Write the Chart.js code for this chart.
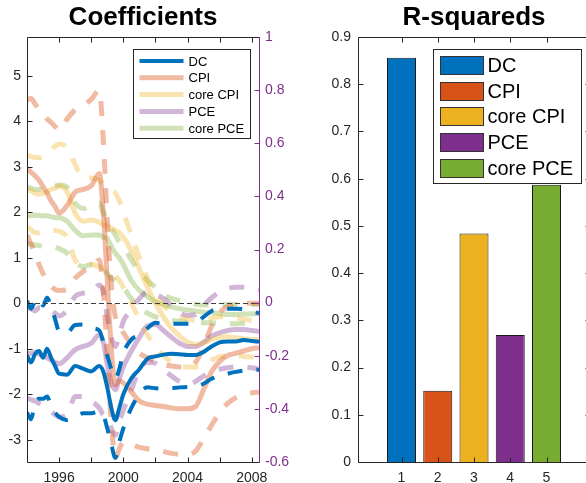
<!DOCTYPE html>
<html>
<head>
<meta charset="utf-8">
<script src="https://cdn.jsdelivr.net/npm/chart.js"></script>
<style>
  html, body { margin: 0; padding: 0; background: #fff; overflow: hidden; }
  body { width: 586px; height: 483px; position: relative; }
  .panel { position: absolute; top: 0; height: 483px; }
  #coefPanel { left: 0; width: 290px; }
  #r2Panel { left: 290px; width: 300px; }
</style>
</head>
<body>
<div class="panel" id="coefPanel"><canvas id="coefChart" width="290" height="483"></canvas></div>
<div class="panel" id="r2Panel"><canvas id="r2Chart" width="300" height="483"></canvas></div>
<script>
// sample dates, half-yearly with finer steps around the 1999 break
const years = [1994, 1994.25, 1994.5, 1994.75, 1995, 1995.25, 1995.5, 1995.75, 1996,
  1996.5, 1997, 1997.5, 1998, 1998.5, 1998.75,
  1999, 1999.25, 1999.5, 1999.75, 2000,
  2000.5, 2001, 2001.5, 2002, 2002.5, 2003, 2003.5, 2004, 2004.5,
  2005, 2005.5, 2006, 2006.5, 2007, 2007.5, 2008, 2008.45];

const seriesNames = ['DC', 'CPI', 'core CPI', 'PCE', 'core PCE'];
const seriesColors = ['#0072BD', '#D95319', '#EDB120', '#7E2F8E', '#77AC30'];
const lineAlpha = [1, 0.4, 0.35, 0.35, 0.35];

// coefficient paths (estimate, upper band, lower band), left axis units
const dcMid = [-1.15, -1.3, -1.12, -1.05, -1.2, -1.0, -1.2, -1.38, -1.55,
  -1.57, -1.38, -1.44, -1.5, -1.38, -1.5,
  -1.85, -2.3, -2.57, -2.3, -2.0,
  -1.65, -1.45, -1.22, -1.17, -1.13, -1.11, -1.12, -1.14, -1.14,
  -1.07, -0.95, -0.86, -0.84, -0.84, -0.81, -0.83, -0.85];
const dcUp = [0.05, -0.12, 0.05, 0.1, -0.05, 0.12, -0.08, -0.35, -0.62,
  -0.65, -0.48, -0.47, -0.55, -0.6, -0.85,
  -1.15, -1.45, -1.65, -1.45, -1.1,
  -0.8, -0.7, -0.55, -0.43, -0.45, -0.45, -0.45, -0.45, -0.43,
  -0.3, -0.17, -0.13, -0.12, -0.12, -0.13, -0.18, -0.22];
const dcLo = [-2.4, -2.55, -2.2, -2.1, -2.1, -2.05, -2.25, -2.4, -2.5,
  -2.57, -2.5, -2.42, -2.42, -2.38, -2.45,
  -2.75, -3.1, -3.4, -3.05, -2.75,
  -2.3, -2.0, -1.85, -1.87, -1.88, -1.87, -1.85, -1.84, -1.82,
  -1.77, -1.66, -1.6, -1.55, -1.51, -1.48, -1.47, -1.46];

const cpiMid = [2.95, 2.88, 2.8, 2.7, 2.56, 2.42, 2.25, 2.12, 1.98,
  2.15, 2.44, 2.5, 2.58, 2.85, 2.0,
  0.5, -1.0, -1.8, -1.7, -1.75,
  -1.95, -2.15, -2.22, -2.25, -2.27, -2.3, -2.32, -2.32, -2.27,
  -1.9, -1.5, -1.28, -1.15, -1.1, -1.05, -1.0, -0.98];
const cpiUp = [4.47, 4.5, 4.38, 4.25, 4.15, 4.05, 3.97, 3.88, 3.8,
  4.05, 4.25, 4.35, 4.48, 4.68, 3.6,
  1.8, 0.4, -0.3, -0.5, -0.65,
  -0.9, -1.1, -1.2, -1.28, -1.35, -1.38, -1.4, -1.4, -1.3,
  -0.95, -0.5, -0.2, -0.08, -0.03, 0.0, 0.0, 0.0];
const cpiLo = [1.5, 1.3, 1.08, 0.85, 0.65, 0.5, 0.38, 0.3, 0.28,
  0.3, 0.55, 0.7, 0.8, 0.95, 0.3,
  -1.2, -2.6, -3.4, -3.2, -3.05,
  -3.1, -3.17, -3.2, -3.22, -3.26, -3.3, -3.32, -3.32, -3.25,
  -2.98, -2.68, -2.4, -2.2, -2.08, -2.02, -1.97, -1.95];

const coreCpiMid = [2.5, 2.47, 2.42, 2.4, 2.42, 2.45, 2.5, 2.53, 2.57,
  2.45, 1.98, 1.8, 1.83, 1.78, 1.72,
  1.7, 1.65, 1.6, 1.55, 1.45,
  1.15, 0.75, 0.35, 0.0, -0.3, -0.55, -0.72, -0.85, -0.9,
  -0.87, -0.8, -0.75, -0.74, -0.76, -0.78, -0.8, -0.8];
const coreCpiUp = [3.25, 3.22, 3.2, 3.2, 3.22, 3.3, 3.38, 3.45, 3.5,
  3.42, 3.05, 2.75, 2.75, 2.7, 2.62,
  2.55, 2.5, 2.42, 2.25, 2.0,
  1.5, 1.0, 0.55, 0.2, -0.05, -0.2, -0.3, -0.35, -0.38,
  -0.36, -0.33, -0.3, -0.3, -0.32, -0.35, -0.38, -0.4];
const coreCpiLo = [1.68, 1.62, 1.55, 1.55, 1.58, 1.6, 1.62, 1.6, 1.58,
  1.45, 0.95, 0.8, 0.85, 0.8, 0.75,
  0.7, 0.65, 0.6, 0.5, 0.35,
  0.0, -0.35, -0.7, -0.95, -1.15, -1.3, -1.38, -1.4, -1.4,
  -1.35, -1.25, -1.18, -1.15, -1.15, -1.17, -1.18, -1.2];

const pceMid = [-1.1, -1.1, -1.08, -1.12, -1.15, -1.2, -1.25, -1.3, -1.33,
  -1.2, -1.02, -0.95, -0.88, -0.7, -0.85,
  -1.35, -1.75, -1.9, -1.65, -1.4,
  -1.05, -0.75, -0.5, -0.47, -0.6, -0.75, -0.88, -0.95, -0.95,
  -0.86, -0.72, -0.65, -0.6, -0.58, -0.58, -0.6, -0.62];
const pceUp = [-0.1, -0.12, -0.17, -0.1, -0.1, -0.12, -0.15, -0.22, -0.28,
  -0.15, 0.15, 0.22, 0.25, 0.4, 0.25,
  -0.3, -0.75, -0.95, -0.7, -0.4,
  -0.15, 0.1, 0.25, 0.2, 0.1, -0.05, -0.2, -0.27, -0.25,
  -0.05, 0.12, 0.25, 0.32, 0.35, 0.35, 0.32, 0.28];
const pceLo = [-2.08, -2.12, -2.15, -2.2, -2.25, -2.32, -2.38, -2.45, -2.5,
  -2.45, -2.05, -2.05, -2.15, -2.3, -2.45,
  -2.5, -2.75, -2.9, -2.6, -2.35,
  -1.9, -1.45, -1.3, -1.32, -1.45, -1.6, -1.72, -1.78, -1.72,
  -1.6, -1.5, -1.45, -1.42, -1.4, -1.4, -1.42, -1.45];

const corePceMid = [1.92, 1.92, 1.93, 1.93, 1.92, 1.92, 1.9, 1.88, 1.88,
  1.8, 1.6, 1.48, 1.5, 1.5, 1.45,
  1.42, 1.25, 1.1, 1.0, 0.85,
  0.5, 0.28, 0.15, 0.03, -0.03, -0.08, -0.12, -0.15, -0.17,
  -0.2, -0.21, -0.23, -0.25, -0.25, -0.24, -0.23, -0.23];
const corePceUp = [2.55, 2.53, 2.5, 2.5, 2.48, 2.5, 2.53, 2.57, 2.6,
  2.55, 2.2, 2.08, 2.18, 2.2, 2.0,
  1.85, 1.65, 1.5, 1.35, 1.25,
  0.95, 0.7, 0.5, 0.35, 0.2, 0.1, 0.06, 0.02, -0.02,
  -0.04, -0.04, -0.04, -0.03, -0.03, -0.03, -0.03, -0.03];
const corePceLo = [1.3, 1.3, 1.28, 1.27, 1.25, 1.25, 1.25, 1.22, 1.2,
  1.1, 0.9, 0.8, 0.85, 0.82, 0.75,
  0.65, 0.55, 0.5, 0.42, 0.35,
  0.1, -0.1, -0.22, -0.3, -0.35, -0.38, -0.4, -0.42, -0.43,
  -0.43, -0.43, -0.44, -0.45, -0.45, -0.44, -0.43, -0.43];

// axis ticks
const xYearTicks = [1996, 1998, 2000, 2002, 2004, 2006, 2008];
const xYearLabels = [1996, 2000, 2004, 2008];
const yLeftTicks = [-3, -2, -1, 0, 1, 2, 3, 4, 5];
const yRightTicks = [-0.6, -0.4, -0.2, 0, 0.2, 0.4, 0.6, 0.8, 1];

// R-squared bars
const r2Pos = [1, 2, 3, 4, 5];
const r2Values = [0.856, 0.151, 0.484, 0.269, 0.587];
const r2Ticks = [0, 0.1, 0.2, 0.3, 0.4, 0.5, 0.6, 0.7, 0.8, 0.9];

const FONT = '"Liberation Sans", Arial, Helvetica, sans-serif';
const axisColor = '#262626';
const rightAxisColor = '#7E2F8E';
const tickLen = 5;

Chart.defaults.font.family = FONT;
Chart.defaults.color = axisColor;

function rgba(hex, a) {
  const n = parseInt(hex.slice(1), 16);
  return `rgba(${(n >> 16) & 255}, ${(n >> 8) & 255}, ${n & 255}, ${a})`;
}
const fmt = v => String(+Number(v).toFixed(2));
const toXY = vals => years.map((x, i) => ({ x: x, y: vals[i] }));

function strokeLine(ctx, x1, y1, x2, y2, color) {
  ctx.strokeStyle = color;
  ctx.beginPath();
  ctx.moveTo(x1, y1);
  ctx.lineTo(x2, y2);
  ctx.stroke();
}

// MATLAB-like box with inward ticks
function framePlugin(leftId, rightId, rightColor, zeroLine) {
  return {
    id: 'frame',
    afterDatasetsDraw(chart) {
      if (!zeroLine) return;
      const { ctx, chartArea: a, scales } = chart;
      const y0 = Math.round(scales[leftId].getPixelForValue(0)) + 0.5;
      ctx.save();
      ctx.lineWidth = 1;
      ctx.setLineDash([5, 3]);
      strokeLine(ctx, a.left, y0, a.right, y0, '#404040');
      ctx.restore();
    },
    afterDraw(chart) {
      const { ctx, chartArea: a, scales } = chart;
      const L = Math.round(a.left) + 0.5, R = Math.round(a.right) + 0.5;
      const T = Math.round(a.top) + 0.5, B = Math.round(a.bottom) + 0.5;
      ctx.save();
      ctx.lineWidth = 1;
      scales.x.ticks.forEach(t => {
        const p = Math.round(scales.x.getPixelForValue(t.value)) + 0.5;
        strokeLine(ctx, p, B, p, B - tickLen, axisColor);
        strokeLine(ctx, p, T, p, T + tickLen, axisColor);
      });
      scales[leftId].ticks.forEach(t => {
        const p = Math.round(scales[leftId].getPixelForValue(t.value)) + 0.5;
        strokeLine(ctx, L, p, L + tickLen, p, axisColor);
      });
      scales[rightId].ticks.forEach(t => {
        const p = Math.round(scales[rightId].getPixelForValue(t.value)) + 0.5;
        strokeLine(ctx, R, p, R - tickLen, p, rightColor);
      });
      strokeLine(ctx, L, T, R, T, axisColor);
      strokeLine(ctx, L, B, R, B, axisColor);
      strokeLine(ctx, L, T, L, B, axisColor);
      strokeLine(ctx, R, T, R, B, rightColor);
      ctx.restore();
    }
  };
}

const coefLegend = {
  id: 'coefLegend',
  afterDraw(chart) {
    const { ctx, chartArea: a } = chart;
    const items = chart.data.datasets.filter(d => !d.band);
    const w = 117, h = 89;
    const x0 = Math.round(a.right - 9 - w) + 0.5, y0 = Math.round(a.top + 12) + 0.5;
    ctx.save();
    ctx.fillStyle = '#fff';
    ctx.fillRect(x0, y0, w, h);
    ctx.lineWidth = 1;
    ctx.strokeStyle = axisColor;
    ctx.strokeRect(x0, y0, w, h);
    ctx.font = '13px ' + FONT;
    ctx.textBaseline = 'middle';
    items.forEach((d, i) => {
      const cy = y0 + 11.5 + i * 16.8;
      ctx.lineWidth = d.borderWidth;
      strokeLine(ctx, x0 + 6, cy, x0 + 50, cy, d.borderColor);
      ctx.fillStyle = '#000';
      ctx.fillText(d.label, x0 + 55, cy + 1);
    });
    ctx.restore();
  }
};

const r2Legend = {
  id: 'r2Legend',
  afterDraw(chart) {
    const { ctx, chartArea: a } = chart;
    const w = 148, h = 134;
    const x0 = Math.round(a.right - 9 - w) + 0.5, y0 = Math.round(a.top + 12) + 0.5;
    ctx.save();
    ctx.fillStyle = '#fff';
    ctx.fillRect(x0, y0, w, h);
    ctx.lineWidth = 1;
    ctx.strokeStyle = axisColor;
    ctx.strokeRect(x0, y0, w, h);
    ctx.font = '20px ' + FONT;
    ctx.textBaseline = 'middle';
    seriesNames.forEach((name, i) => {
      const cy = y0 + 16 + i * 25.7;
      ctx.fillStyle = seriesColors[i];
      ctx.fillRect(Math.round(x0 + 6), Math.round(cy - 9.5), 44, 19);
      ctx.strokeStyle = '#333';
      ctx.strokeRect(Math.round(x0 + 6) + 0.5, Math.round(cy - 9.5) + 0.5, 43, 18);
      ctx.fillStyle = '#000';
      ctx.fillText(name, x0 + 54, cy + 1);
    });
    ctx.restore();
  }
};

// ---------- Coefficients ----------
const coefDatasets = [];
[[dcMid, dcUp, dcLo], [cpiMid, cpiUp, cpiLo], [coreCpiMid, coreCpiUp, coreCpiLo],
 [pceMid, pceUp, pceLo], [corePceMid, corePceUp, corePceLo]].forEach(([mid, up, lo], i) => {
  const color = rgba(seriesColors[i], lineAlpha[i]);
  const width = i === 0 ? 4 : 5;
  const common = {
    borderColor: color, borderWidth: width, pointRadius: 0, fill: false,
    cubicInterpolationMode: 'monotone', borderCapStyle: 'butt', borderJoinStyle: 'round'
  };
  coefDatasets.push(Object.assign({ label: seriesNames[i], data: toXY(mid) }, common));
  coefDatasets.push(Object.assign({ label: seriesNames[i] + ' upper', band: true, data: toXY(up), borderDash: [15, 14] }, common));
  coefDatasets.push(Object.assign({ label: seriesNames[i] + ' lower', band: true, data: toXY(lo), borderDash: [15, 14] }, common));
});

new Chart(document.getElementById('coefChart'), {
  type: 'line',
  data: { datasets: coefDatasets },
  options: {
    responsive: false,
    animation: false,
    events: [],
    layout: { padding: 0 },
    plugins: {
      legend: { display: false },
      tooltip: { enabled: false },
      title: {
        display: true, text: 'Coefficients', color: '#000', fullSize: false,
        font: { size: 26, weight: 'bold' }, padding: { top: 2, bottom: 3.8 }
      }
    },
    scales: {
      x: {
        type: 'linear', min: 1994, max: 2008.45,
        grid: { display: false, drawTicks: false }, border: { display: false },
        afterBuildTicks: s => { s.ticks = xYearTicks.map(v => ({ value: v })); },
        afterFit: s => { s.height = 21; },
        ticks: {
          autoSkip: false, maxRotation: 0, padding: 8, color: axisColor, font: { size: 14 },
          callback: v => (xYearLabels.includes(v) ? String(v) : '')
        }
      },
      y: {
        position: 'left', min: -3.49, max: 5.85,
        grid: { display: false, drawTicks: false }, border: { display: false },
        afterBuildTicks: s => { s.ticks = yLeftTicks.map(v => ({ value: v })); },
        afterFit: s => { s.width = 27; },
        ticks: { autoSkip: false, padding: 6, color: axisColor, font: { size: 14 }, callback: fmt }
      },
      y2: {
        position: 'right', min: -0.6, max: 1,
        grid: { display: false, drawTicks: false }, border: { display: false },
        afterBuildTicks: s => { s.ticks = yRightTicks.map(v => ({ value: v })); },
        afterFit: s => { s.width = 31; },
        ticks: { autoSkip: false, padding: 6, color: rightAxisColor, font: { size: 14 }, callback: fmt }
      }
    }
  },
  plugins: [framePlugin('y', 'y2', rightAxisColor, true), coefLegend]
});

// ---------- R-squareds ----------
new Chart(document.getElementById('r2Chart'), {
  type: 'bar',
  data: {
    datasets: [{
      label: 'R-squared',
      data: r2Pos.map((x, i) => ({ x: x, y: r2Values[i] })),
      backgroundColor: seriesColors,
      borderColor: '#1a1a1a',
      borderWidth: 1,
      categoryPercentage: 1,
      barPercentage: 0.8
    }]
  },
  options: {
    responsive: false,
    animation: false,
    events: [],
    layout: { padding: 0 },
    plugins: {
      legend: { display: false },
      tooltip: { enabled: false },
      title: {
        display: true, text: 'R-squareds', color: '#000', fullSize: false,
        font: { size: 26, weight: 'bold' }, padding: { top: 2, bottom: 3.8 }
      }
    },
    scales: {
      x: {
        type: 'linear', min: -0.2, max: 6.2, offset: false,
        grid: { display: false, drawTicks: false }, border: { display: false },
        afterBuildTicks: s => { s.ticks = r2Pos.map(v => ({ value: v })); },
        afterFit: s => { s.height = 21; },
        ticks: { autoSkip: false, maxRotation: 0, padding: 8, color: axisColor, font: { size: 14 }, callback: fmt }
      },
      y: {
        position: 'left', min: 0, max: 0.9,
        grid: { display: false, drawTicks: false }, border: { display: false },
        afterBuildTicks: s => { s.ticks = r2Ticks.map(v => ({ value: v })); },
        afterFit: s => { s.width = 68; },
        ticks: { autoSkip: false, padding: 7, color: axisColor, font: { size: 14 }, callback: fmt }
      }
    }
  },
  plugins: [framePlugin('y', 'y', axisColor, false), r2Legend]
});
</script>
</body>
</html>
